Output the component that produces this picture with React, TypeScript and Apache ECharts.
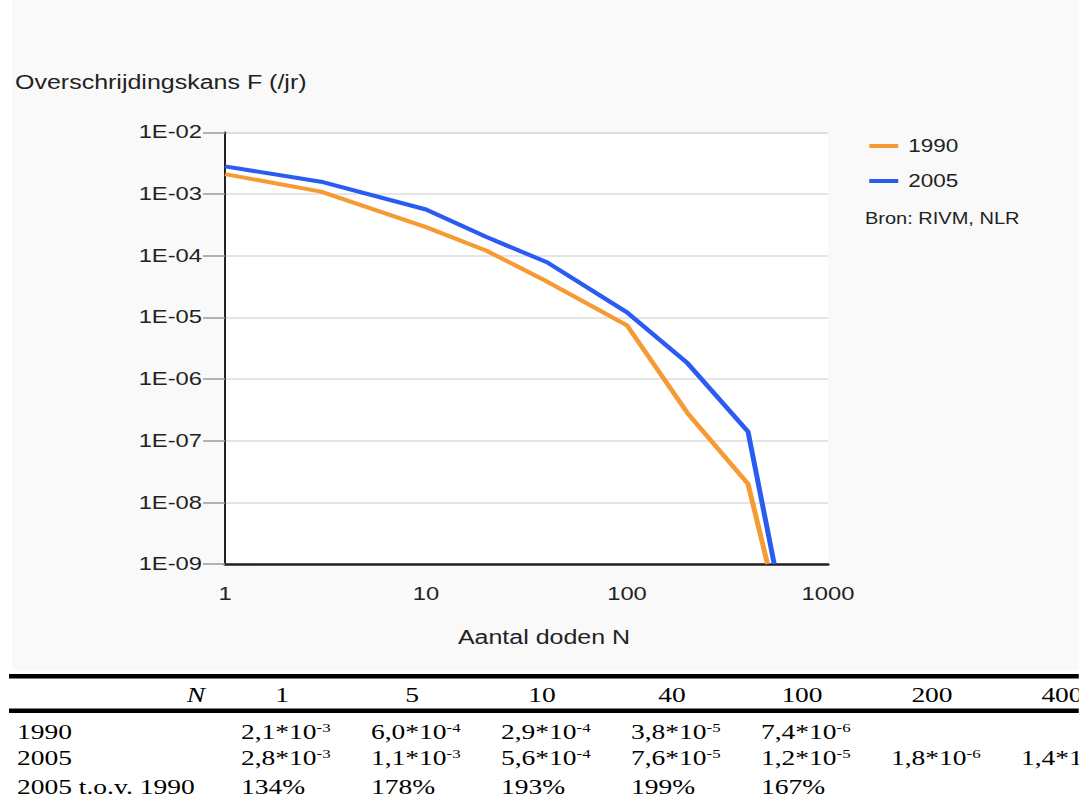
import React, { useEffect, useRef } from "react";
import * as echarts from "echarts";

// ---- data ----
const N_1990 = [1, 3, 10, 20, 40, 100, 200, 400, 500];
const F_1990 = [2.1e-3, 1.09e-3, 2.9e-4, 1.2e-4, 3.8e-5, 7.4e-6, 2.8e-7, 2.0e-8, 1e-9];
const N_2005 = [1, 3, 10, 20, 40, 100, 200, 400, 540];
const F_2005 = [2.8e-3, 1.58e-3, 5.6e-4, 2.0e-4, 7.8e-5, 1.2e-5, 1.8e-6, 1.4e-7, 1e-9];
const SERIES_NAMES = ["1990", "2005"];

const TABLE_N = ["1", "5", "10", "40", "100", "200", "400"];
const TABLE_1990 = [2.1e-3, 6.0e-4, 2.9e-4, 3.8e-5, 7.4e-6, null, null];
const TABLE_2005 = [2.8e-3, 1.1e-3, 5.6e-4, 7.6e-5, 1.2e-5, 1.8e-6, 1.4e-7];
const TABLE_RATIO = ["134%", "178%", "193%", "199%", "167%", null, null];
const ROW_LABELS = ["1990", "2005", "2005 t.o.v. 1990"];

const TITLE = "Overschrijdingskans F (/jr)";
const X_NAME = "Aantal doden N";
const SOURCE = "Bron: RIVM, NLR";

// ---- layout (virtual coordinates; the whole picture is stretched horizontally) ----
const SX = 1.25;
const VW = 1079 / SX;
const H = 804;
const vx = (x: number) => x / SX;

const COL0 = 282;
const COL_STEP = 130;
const ROW_Y = { head: 694, r1990: 731, r2005: 757, ratio: 786 };

function fmtSci(v: number) {
  const e = Math.floor(Math.log10(v) + 1e-9);
  const m = (v / Math.pow(10, e)).toFixed(1).replace(".", ",");
  return `${m}*10{s|${e}}`;
}

const serif = "Liberation Serif";
const sans = "Liberation Sans";

function tText(x: number, y: number, text: string, align: string, italic = false) {
  return {
    type: "text",
    x,
    y,
    silent: true,
    style: {
      text,
      fontSize: 22,
      fontFamily: serif,
      fontStyle: italic ? "italic" : "normal",
      fill: "#000",
      align,
      verticalAlign: "middle",
      textAlign: align,
      textVerticalAlign: "middle",
      rich: {
        s: { fontSize: 13.5, fontFamily: serif, fill: "#000", color: "#000", verticalAlign: "top" },
      },
    },
  };
}

export default function App() {
  const ref = useRef<HTMLDivElement>(null);
  useEffect(() => {
    if (!ref.current) return;
    const chart = echarts.init(ref.current, null, { renderer: "svg", width: VW, height: H });

    const headX = TABLE_N.map((_, i) => vx(COL0 + COL_STEP * i));
    const valX = TABLE_N.map((_, i) => vx(COL0 - 41 + COL_STEP * i));

    const graphics: any[] = [
      {
        type: "rect",
        z: -10,
        silent: true,
        shape: { x: vx(12), y: 0, width: VW, height: 670 },
        style: { fill: "#f9f9f9" },
      },
      {
        type: "text",
        x: vx(15),
        y: 82,
        silent: true,
        style: {
          text: TITLE, fontSize: 20, fontFamily: sans, fill: "#222",
          align: "left", verticalAlign: "middle", textAlign: "left", textVerticalAlign: "middle",
        },
      },
      {
        type: "text",
        x: vx(544),
        y: 637,
        silent: true,
        style: {
          text: X_NAME, fontSize: 20, fontFamily: sans, fill: "#222",
          align: "center", verticalAlign: "middle", textAlign: "center", textVerticalAlign: "middle",
        },
      },
      {
        type: "text",
        x: vx(865),
        y: 219,
        silent: true,
        style: {
          text: SOURCE, fontSize: 16, fontFamily: sans, fill: "#222",
          align: "left", verticalAlign: "middle", textAlign: "left", textVerticalAlign: "middle",
        },
      },
      { type: "rect", silent: true, shape: { x: vx(9), y: 674, width: VW, height: 4.5 }, style: { fill: "#000" } },
      { type: "rect", silent: true, shape: { x: vx(9), y: 708.5, width: VW, height: 4.5 }, style: { fill: "#000" } },
      tText(vx(205), ROW_Y.head, "N", "right", true),
      tText(vx(17), ROW_Y.r1990, ROW_LABELS[0], "left"),
      tText(vx(17), ROW_Y.r2005, ROW_LABELS[1], "left"),
      tText(vx(17), ROW_Y.ratio, ROW_LABELS[2], "left"),
    ];
    TABLE_N.forEach((n, i) => graphics.push(tText(headX[i], ROW_Y.head, n, "center")));
    TABLE_1990.forEach((v, i) => {
      if (v != null) graphics.push(tText(valX[i], ROW_Y.r1990, fmtSci(v), "left"));
    });
    TABLE_2005.forEach((v, i) => {
      if (v != null) graphics.push(tText(valX[i], ROW_Y.r2005, fmtSci(v), "left"));
    });
    TABLE_RATIO.forEach((v, i) => {
      if (v != null) graphics.push(tText(valX[i], ROW_Y.ratio, v, "left"));
    });

    const option: any = {
      animation: false,
      backgroundColor: "#fff",
      textStyle: { fontFamily: sans },
      grid: {
        show: true,
        backgroundColor: "#fff",
        borderWidth: 0,
        left: vx(225),
        top: 132.3,
        width: vx(828) - vx(225),
        height: 431.7,
      },
      legend: {
        orient: "vertical",
        left: vx(863),
        top: 132,
        icon: "rect",
        itemWidth: vx(892) - vx(863),
        itemHeight: 4,
        itemGap: 17,
        data: SERIES_NAMES,
        textStyle: { fontSize: 18, fontFamily: sans, color: "#222", padding: [0, 0, 0, 3] },
      },
      xAxis: {
        type: "log",
        logBase: 10,
        min: 1,
        max: 1000,
        axisLine: { show: true, onZero: false, lineStyle: { color: "#222", width: 2.5 } },
        axisTick: { show: false },
        splitLine: { show: false },
        axisLabel: {
          margin: 20,
          fontSize: 19,
          fontFamily: sans,
          color: "#222",
          formatter: (v: number) => String(Math.round(v)),
        },
      },
      yAxis: {
        type: "log",
        logBase: 10,
        min: 1e-9,
        max: 1e-2,
        axisLine: { show: true, onZero: false, lineStyle: { color: "#222", width: 1.6 } },
        axisTick: { show: true, length: vx(22), lineStyle: { color: "#999", width: 1.5 } },
        splitLine: { show: true, lineStyle: { color: "#ddd", width: 1.5 } },
        axisLabel: {
          margin: vx(23),
          fontSize: 19,
          fontFamily: sans,
          color: "#222",
          formatter: (v: number) => {
            const e = Math.round(Math.log10(v));
            return `1E${e < 0 ? "-" : "+"}${String(Math.abs(e)).padStart(2, "0")}`;
          },
        },
      },
      series: [
        {
          name: SERIES_NAMES[0],
          type: "line",
          data: N_1990.map((n, i) => [n, F_1990[i]]),
          symbol: "none",
          showSymbol: false,
          color: "#f69a33",
          lineStyle: { width: 4, color: "#f69a33" },
          z: 2,
        },
        {
          name: SERIES_NAMES[1],
          type: "line",
          data: N_2005.map((n, i) => [n, F_2005[i]]),
          symbol: "none",
          showSymbol: false,
          color: "#2a5cf2",
          lineStyle: { width: 4, color: "#2a5cf2" },
          z: 3,
        },
      ],
      graphic: graphics,
    };
    chart.setOption(option);
    return () => chart.dispose();
  }, []);

  return (
    <div
      ref={ref}
      style={{
        position: "absolute",
        left: 0,
        top: 0,
        width: VW,
        height: H,
        transform: `scaleX(${SX})`,
        transformOrigin: "0 0",
        background: "#fff",
      }}
    />
  );
}
